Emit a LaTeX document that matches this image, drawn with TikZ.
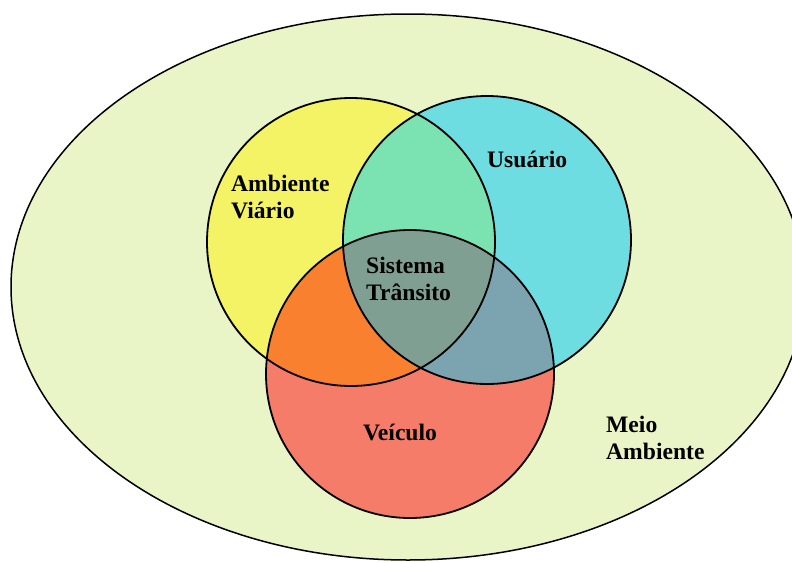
\documentclass[tikz,border=0pt]{standalone}
\usepackage{fontspec}
\setmainfont{Liberation Serif}
\definecolor{bgc}{HTML}{E9F5C7}
\definecolor{yel}{HTML}{F3F365}
\definecolor{cya}{HTML}{6DDDE2}
\definecolor{redc}{HTML}{F47C68}
\definecolor{yc}{HTML}{7BE2B2}
\definecolor{yr}{HTML}{F8802F}
\definecolor{cr}{HTML}{7BA3B0}
\definecolor{ycr}{HTML}{7F9F92}
\begin{document}
\begin{tikzpicture}[x=1pt,y=-1pt,
  lbl/.style={font=\fontsize{23.6}{27}\selectfont\bfseries, align=left, inner sep=0pt},
  ring/.style={draw=black, line width=1.8pt}]
\clip (0,0) rectangle (792,562);
\fill[white] (0,0) rectangle (792,562);
% outer environment
\filldraw[fill=bgc, draw=black, line width=1.5pt] (408,287) ellipse [x radius=397, y radius=273];
% circles
\coordinate (cy) at (351,242);
\coordinate (cc) at (487,240);
\coordinate (cv) at (410,374);
\fill[yel] (cy) circle (144);
\fill[cya] (cc) circle (144);
\fill[redc] (cv) circle (144);
\begin{scope}
  \clip (cy) circle (144);
  \fill[yc] (cc) circle (144);
  \fill[yr] (cv) circle (144);
\end{scope}
\begin{scope}
  \clip (cc) circle (144);
  \fill[cr] (cv) circle (144);
\end{scope}
\begin{scope}
  \clip (cy) circle (144);
  \clip (cc) circle (144);
  \fill[ycr] (cv) circle (144);
\end{scope}
\draw[ring] (cy) circle (144);
\draw[ring] (cc) circle (144);
\draw[ring] (cv) circle (144);
% labels
\node[lbl, anchor=west] (av) at (231,197) {Ambiente\\Viário};
\node[lbl, anchor=west] (us) at (487,159) {Usuário};
\node[lbl, anchor=west] (st) at (366,279) {Sistema\\Trânsito};
\node[lbl, anchor=center] (ve) at (400,432) {Veículo};
\node[lbl, anchor=west] (ma) at (606,438) {Meio\\Ambiente};
\end{tikzpicture}
\end{document}
